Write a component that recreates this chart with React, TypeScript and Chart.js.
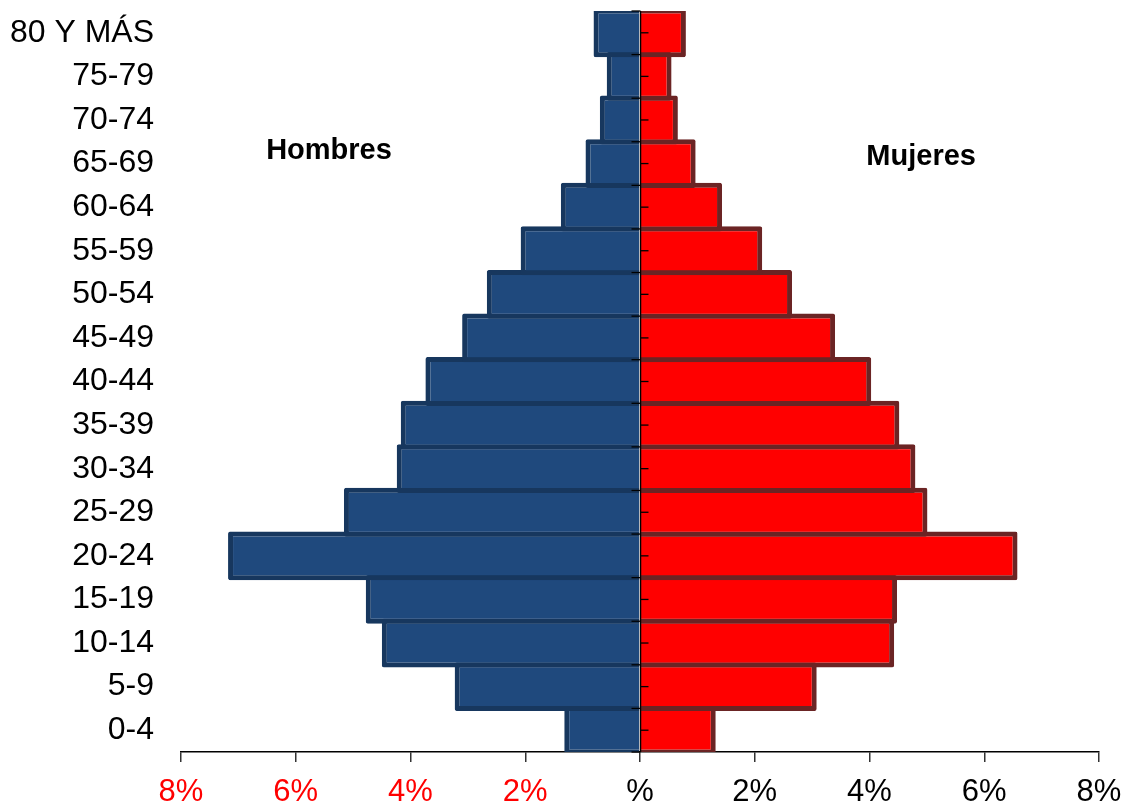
import React, { useEffect, useRef } from "react";
import { Chart, registerables } from "chart.js";

Chart.register(...registerables);

const categories = [
  "0-4", "5-9", "10-14", "15-19", "20-24", "25-29", "30-34", "35-39", "40-44",
  "45-49", "50-54", "55-59", "60-64", "65-69", "70-74", "75-79", "80 Y MÁS",
];
const hombres = [1.32, 3.23, 4.5, 4.78, 7.18, 5.16, 4.24, 4.17, 3.74, 3.1, 2.67, 2.08, 1.38, 0.95, 0.7, 0.58, 0.81];
const mujeres = [1.32, 3.08, 4.43, 4.48, 6.58, 5.01, 4.8, 4.52, 4.03, 3.4, 2.65, 2.13, 1.43, 0.97, 0.66, 0.55, 0.8];
const xTicks = [-8, -6, -4, -2, 0, 2, 4, 6, 8];

const seriesNames = ["Hombres", "Mujeres"];
const annotations = [
  { text: "Hombres", x: -5.42, y: 13.28 },
  { text: "Mujeres", x: 4.9, y: 13.16 },
];

const FONT = "'Liberation Sans', Arial, sans-serif";

const centerPlugin = {
  id: "centerAxis",
  afterDatasetsDraw(chart: any) {
    const { ctx, chartArea, scales } = chart;
    const xs = scales.x;
    const ys = scales.y;
    const x0 = Math.round(xs.getPixelForValue(0)) + 0.5;
    ctx.save();
    ctx.strokeStyle = "#000";
    ctx.lineWidth = 1.5;
    ctx.beginPath();
    ctx.moveTo(x0, chartArea.top);
    ctx.lineTo(x0, chartArea.bottom);
    ctx.stroke();
    ctx.lineWidth = 1.3;
    for (let i = 0; i <= categories.length; i++) {
      const yb = ys.getPixelForValue(i - 0.5);
      ctx.beginPath();
      ctx.moveTo(x0 - 9, yb);
      ctx.lineTo(x0, yb);
      ctx.stroke();
    }
    for (let i = 0; i < categories.length; i++) {
      const yc = ys.getPixelForValue(i);
      ctx.beginPath();
      ctx.moveTo(x0, yc);
      ctx.lineTo(x0 + 8, yc);
      ctx.stroke();
    }
    ctx.fillStyle = "#000";
    ctx.font = `bold 29px ${FONT}`;
    ctx.textAlign = "center";
    ctx.textBaseline = "middle";
    for (const a of annotations) {
      ctx.fillText(a.text, xs.getPixelForValue(a.x), ys.getPixelForValue(a.y));
    }
    ctx.restore();
  },
};

export default function App() {
  const ref = useRef<HTMLCanvasElement | null>(null);
  useEffect(() => {
    if (!ref.current) return;
    const chart = new Chart(ref.current, {
      type: "bar",
      data: {
        labels: categories,
        datasets: [
          {
            label: seriesNames[0],
            data: hombres.map((v) => -v),
            backgroundColor: "#1f497d",
            borderColor: "#17375e",
            borderWidth: 5,
            borderRadius: 2,
            barPercentage: 1.12,
            categoryPercentage: 1,
          },
          {
            label: seriesNames[1],
            data: mujeres,
            backgroundColor: "#ff0000",
            borderColor: "#6b2424",
            borderWidth: 5,
            borderRadius: 2,
            barPercentage: 1.12,
            categoryPercentage: 1,
          },
        ],
      },
      options: {
        indexAxis: "y",
        responsive: false,
        animation: false,
        layout: { padding: { left: 8, right: 36, top: 11, bottom: 0 } },
        plugins: { legend: { display: false }, tooltip: { enabled: false } },
        scales: {
          x: {
            type: "linear",
            min: -8,
            max: 8,
            stacked: true,
            afterBuildTicks: (s: any) => {
              s.ticks = xTicks.map((v) => ({ value: v }));
            },
            afterFit: (s: any) => {
              s.height = 54;
              s.paddingLeft = 0;
              s.paddingRight = 0;
            },
            grid: {
              drawOnChartArea: false,
              drawTicks: true,
              tickLength: 10,
              color: "#333",
              lineWidth: 1.5,
            },
            border: { display: true, color: "#000", width: 1.5 },
            ticks: {
              padding: 12,
              font: { family: FONT, size: 31 },
              color: (c: any) => (c.tick && c.tick.value < 0 ? "#ff0000" : "#000"),
              callback: (v: any) => (Number(v) === 0 ? "%" : Math.abs(Number(v)) + "%"),
            },
          },
          y: {
            type: "category",
            stacked: true,
            reverse: true,
            afterFit: (s: any) => {
              s.width = 173;
              s.paddingTop = 0;
              s.paddingBottom = 0;
            },
            grid: { display: false, drawTicks: false },
            border: { display: false },
            ticks: {
              padding: 27,
              autoSkip: false,
              font: { family: FONT, size: 32 },
              color: "#000",
            },
          },
        },
      },
      plugins: [centerPlugin],
    });
    return () => chart.destroy();
  }, []);
  return (
    <div style={{ position: "fixed", left: 0, top: 0, width: 1135, height: 806, background: "#fff" }}>
      <canvas ref={ref} width={1135} height={806} style={{ display: "block" }} />
    </div>
  );
}
